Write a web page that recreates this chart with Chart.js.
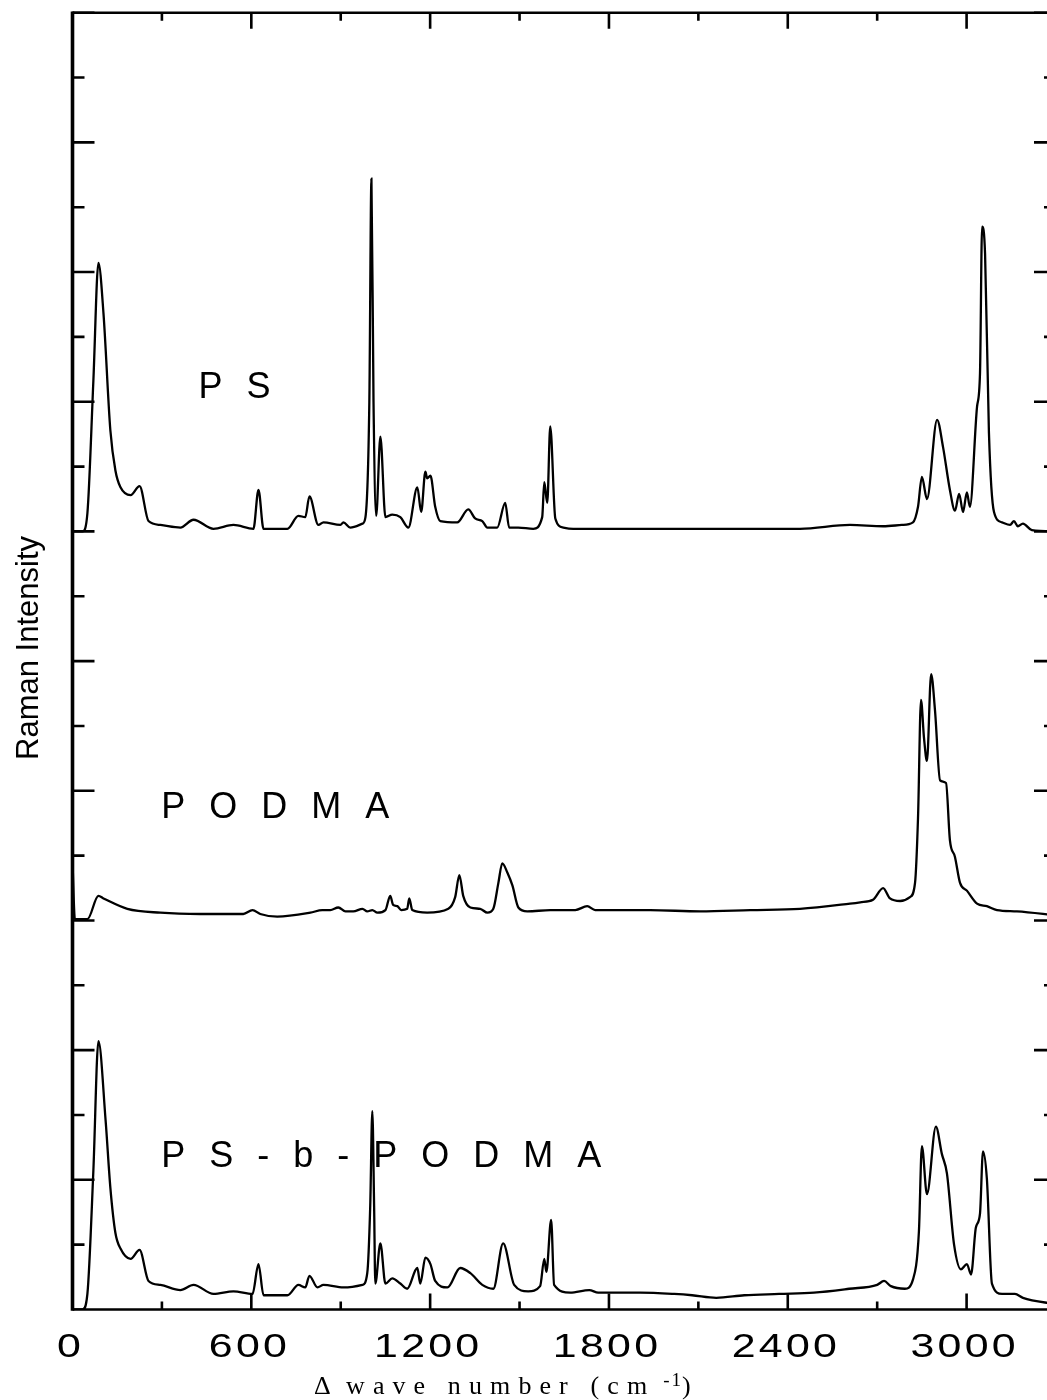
<!DOCTYPE html>
<html>
<head>
<meta charset="UTF-8">
<title>Raman spectra</title>
<script src="https://cdn.jsdelivr.net/npm/chart.js"></script>
<style>
html, body { margin:0; padding:0; background:#fff; overflow:hidden; }
#wrap { position:relative; width:1060px; height:1400px; }
</style>
</head>
<body>
<div id="wrap"><canvas id="myChart" width="1060" height="1400"></canvas></div>
<script>
// wave number (cm-1) and intensity above each spectrum's own baseline
var psWn = [0, 34, 50, 70, 87, 104, 127, 144, 161, 195, 225, 255, 295, 362, 406, 473, 540, 607, 624, 641,
	721, 758, 781, 795, 825, 842, 899, 909, 932, 973, 983, 996, 1003, 1010, 1019, 1033, 1050, 1073, 1100, 1127,
	1157, 1170, 1184, 1190, 1201, 1217, 1234, 1291, 1328, 1351, 1375, 1392, 1425, 1452, 1465, 1496, 1546, 1576, 1583, 1593,
	1603, 1620, 1647, 1680, 1938, 2274, 2441, 2609, 2720, 2783, 2820, 2837, 2850, 2867, 2901, 2921, 2944, 2961, 2975, 2988,
	3001, 3011, 3035, 3045, 3052, 3062, 3075, 3092, 3119, 3146, 3159, 3172, 3189, 3219, 3300];
var psInt = [0, 0, 0.14, 1.16, 2.07, 1.68, 0.78, 0.47, 0.34, 0.28, 0.35, 0.08, 0.05, 0.03, 0.09, 0.02, 0.05, 0.02, 0.32, 0.02,
	0.02, 0.12, 0.11, 0.27, 0.05, 0.07, 0.05, 0.07, 0.03, 0.06, 0.11, 1.0, 2.72, 1.0, 0.12, 0.73, 0.11, 0.13, 0.11, 0.03,
	0.34, 0.15, 0.46, 0.41, 0.43, 0.19, 0.08, 0.07, 0.17, 0.10, 0.08, 0.03, 0.03, 0.22, 0.03, 0.03, 0.02, 0.11, 0.38, 0.22,
	0.81, 0.10, 0.03, 0.02, 0.02, 0.02, 0.02, 0.05, 0.04, 0.05, 0.07, 0.19, 0.42, 0.25, 0.86, 0.65, 0.32, 0.16, 0.29, 0.15,
	0.30, 0.19, 0.96, 1.22, 2.35, 2.14, 0.76, 0.15, 0.07, 0.05, 0.08, 0.04, 0.06, 0.01, 0.0];

var podmaWn = [0, 8, 50, 87, 104, 184, 295, 429, 573, 604, 630, 687, 798, 838, 865, 892, 916, 942, 973, 989,
	1006, 1023, 1050, 1066, 1076, 1090, 1103, 1123, 1130, 1140, 1190, 1261, 1284, 1298, 1311, 1335, 1368, 1392, 1412, 1429,
	1442, 1459, 1476, 1496, 1526, 1603, 1687, 1727, 1754, 1938, 2106, 2274, 2441, 2609, 2643, 2686, 2720, 2743, 2777, 2810,
	2827, 2837, 2847, 2857, 2867, 2881, 2894, 2911, 2931, 2944, 2961, 2978, 3001, 3035, 3068, 3102, 3169, 3300];
var podmaInt = [0.45, 0.01, 0.01, 0.19, 0.17, 0.09, 0.06, 0.05, 0.05, 0.08, 0.05, 0.03, 0.06, 0.08, 0.08, 0.10, 0.07, 0.07, 0.09, 0.07,
	0.08, 0.06, 0.08, 0.19, 0.12, 0.11, 0.08, 0.09, 0.17, 0.08, 0.06, 0.09, 0.18, 0.35, 0.19, 0.10, 0.09, 0.06, 0.09, 0.29,
	0.44, 0.37, 0.27, 0.10, 0.07, 0.08, 0.08, 0.11, 0.08, 0.08, 0.07, 0.08, 0.09, 0.13, 0.14, 0.16, 0.25, 0.17, 0.15, 0.18,
	0.29, 0.79, 1.70, 1.41, 1.23, 1.90, 1.62, 1.08, 1.06, 0.62, 0.49, 0.29, 0.23, 0.13, 0.11, 0.08, 0.07, 0.04];

var cpWn = [0, 34, 50, 70, 87, 111, 127, 144, 161, 195, 225, 255, 295, 362, 406, 473, 540, 604, 624, 641,
	721, 758, 781, 795, 822, 842, 909, 973, 989, 999, 1006, 1012, 1016, 1033, 1050, 1073, 1100, 1123, 1157, 1167,
	1184, 1201, 1217, 1258, 1301, 1335, 1375, 1412, 1445, 1482, 1529, 1569, 1583, 1590, 1606, 1616, 1670, 1734, 1764, 1905,
	2019, 2079, 2160, 2254, 2371, 2488, 2606, 2700, 2723, 2746, 2793, 2820, 2840, 2850, 2867, 2897, 2917, 2934, 2958, 2981,
	3001, 3015, 3031, 3045, 3055, 3068, 3085, 3119, 3162, 3189, 3300];
var cpInt = [0, 0, 0.12, 1.07, 2.07, 1.46, 0.94, 0.59, 0.47, 0.39, 0.46, 0.22, 0.19, 0.15, 0.19, 0.12, 0.14, 0.12, 0.35, 0.11,
	0.11, 0.19, 0.17, 0.26, 0.17, 0.19, 0.17, 0.19, 0.28, 0.8, 1.53, 0.8, 0.20, 0.51, 0.20, 0.24, 0.20, 0.16, 0.32, 0.20,
	0.40, 0.35, 0.22, 0.17, 0.32, 0.28, 0.19, 0.16, 0.51, 0.19, 0.14, 0.18, 0.39, 0.29, 0.69, 0.19, 0.13, 0.15, 0.13, 0.13,
	0.12, 0.11, 0.09, 0.11, 0.12, 0.13, 0.16, 0.19, 0.22, 0.18, 0.16, 0.23, 0.60, 1.26, 0.89, 1.41, 1.20, 1.05, 0.50, 0.31,
	0.35, 0.27, 0.63, 0.74, 1.22, 1.01, 0.20, 0.12, 0.12, 0.09, 0.04];

// vertical offsets of the stacked spectra
var psOffset = 6, podmaOffset = 3, cpOffset = 0;

var xTickLabels = [0, 600, 1200, 1800, 2400, 3000];
var names = ['PS', 'PODMA', 'PS-b-PODMA'];

function pts(wn, inten, off) {
	var out = [];
	for (var i = 0; i < wn.length; i++) out.push({x: wn[i], y: inten[i] + off});
	return out;
}

function textW(ctx, s, ls) {
	var w = 0;
	for (var i = 0; i < s.length; i++) w += ctx.measureText(s[i]).width + ls;
	return w;
}
function spaced(ctx, s, x, y, ls) {
	for (var i = 0; i < s.length; i++) {
		ctx.fillText(s[i], x, y);
		x += ctx.measureText(s[i]).width + ls;
	}
	return x;
}

var framePlugin = {
	id: 'frame',
	afterDatasetsDraw: function(chart) {
		var ctx = chart.ctx, a = chart.chartArea, xs = chart.scales.x, ys = chart.scales.y;
		var v, p;
		ctx.save();
		ctx.strokeStyle = '#000';
		ctx.fillStyle = '#000';

		// box
		ctx.lineWidth = 2.6;
		ctx.beginPath();
		ctx.moveTo(a.left, a.top); ctx.lineTo(a.right, a.top);
		ctx.lineTo(a.right, a.bottom); ctx.lineTo(a.left, a.bottom);
		ctx.stroke();
		ctx.lineWidth = 3.6;
		ctx.beginPath(); ctx.moveTo(a.left, a.top - 1.3); ctx.lineTo(a.left, a.bottom + 1.3); ctx.stroke();

		// inward ticks
		ctx.lineWidth = 2.6;
		ctx.beginPath();
		for (v = 300; v < xs.max; v += 300) {
			p = xs.getPixelForValue(v);
			var tl = (v % 600 === 0) ? 16 : 8;
			ctx.moveTo(p, a.bottom); ctx.lineTo(p, a.bottom - tl);
			ctx.moveTo(p, a.top); ctx.lineTo(p, a.top + tl);
		}
		for (v = 0.5; v <= ys.max; v += 0.5) {
			p = ys.getPixelForValue(v);
			var yl = (v % 1 === 0) ? 22 : 12;
			ctx.moveTo(a.left, p); ctx.lineTo(a.left + yl, p);
			ctx.moveTo(a.right, p); ctx.lineTo(a.right - yl, p);
		}
		ctx.stroke();

		// x tick labels, wide letter spacing
		ctx.font = '33px "Liberation Sans", Arial, sans-serif';
		ctx.textAlign = 'left';
		ctx.textBaseline = 'alphabetic';
		xTickLabels.forEach(function(t) {
			var s = String(t);
			var cx = xs.getPixelForValue(t) - 3.5;
			ctx.save();
			ctx.translate(cx, 1357);
			ctx.scale(1.3, 1);
			var w = textW(ctx, s, 2.5) - 2.5;
			spaced(ctx, s, -w / 2, 0, 2.5);
			ctx.restore();
		});

		// x title
		ctx.font = '26px "Liberation Serif", "Times New Roman", serif';
		ctx.fillText('\u0394', 314, 1394);
		var ex = spaced(ctx, 'wave number (cm', 346, 1394, 8.1);
		ctx.font = '19px "Liberation Serif", "Times New Roman", serif';
		ex = spaced(ctx, '-1', ex + 8, 1386, 2);
		ctx.font = '26px "Liberation Serif", "Times New Roman", serif';
		ctx.fillText(')', ex - 1, 1394);

		// y title
		ctx.save();
		ctx.translate(38, 648);
		ctx.rotate(-Math.PI / 2);
		ctx.font = '31px "Liberation Sans", Arial, sans-serif';
		ctx.textAlign = 'center';
		ctx.fillText('Raman Intensity', 0, 0);
		ctx.restore();

		// spectrum names
		ctx.font = '36px "Liberation Sans", Arial, sans-serif';
		ctx.textAlign = 'left';
		var where = [[423, 7.03], [298, 3.79], [298, 1.10]];
		names.forEach(function(n, i) {
			spaced(ctx, n, xs.getPixelForValue(where[i][0]), ys.getPixelForValue(where[i][1]), 24);
		});
		ctx.restore();
	}
};

function lineSet(data) {
	return {
		data: data,
		borderColor: '#000',
		borderWidth: 2.3,
		pointRadius: 0,
		fill: false,
		cubicInterpolationMode: 'monotone'
	};
}

new Chart(document.getElementById('myChart'), {
	type: 'line',
	data: {
		datasets: [
			lineSet(pts(psWn, psInt, psOffset)),
			lineSet(pts(podmaWn, podmaInt, podmaOffset)),
			lineSet(pts(cpWn, cpInt, cpOffset))
		]
	},
	options: {
		responsive: false,
		animation: false,
		layout: { padding: { top: 12.7, right: 4, left: 0, bottom: 0 } },
		plugins: { legend: { display: false }, tooltip: { enabled: false } },
		scales: {
			x: {
				type: 'linear', min: 0, max: 3300,
				ticks: { display: false },
				grid: { display: false },
				border: { display: false },
				afterFit: function(s) { s.height = 90.5; }
			},
			y: {
				min: 0, max: 10,
				ticks: { display: false },
				grid: { display: false },
				border: { display: false },
				afterFit: function(s) { s.width = 72.5; }
			}
		}
	},
	plugins: [framePlugin]
});
</script>
</body>
</html>
